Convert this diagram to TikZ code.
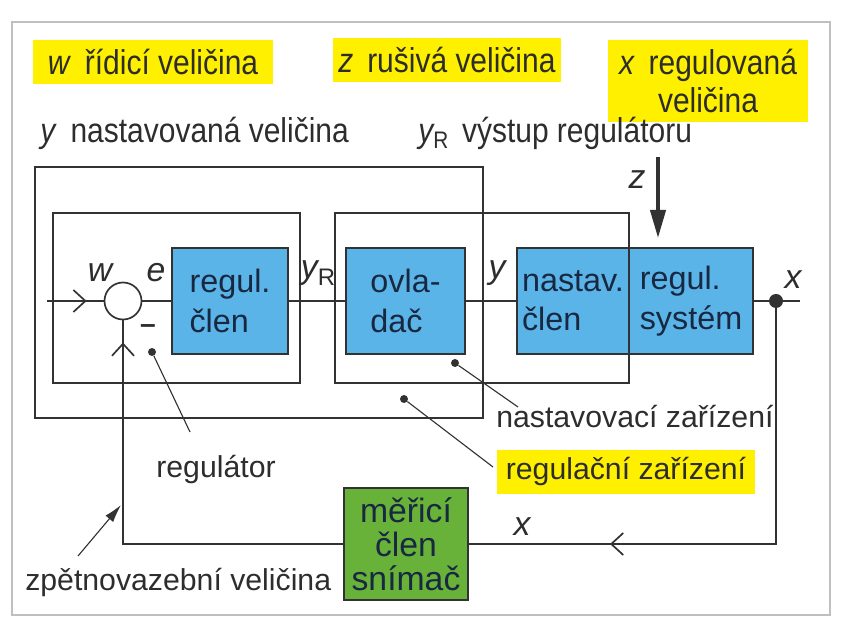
\documentclass[tikz,border=0pt]{standalone}
\usepackage{fontspec}
\setmainfont{Liberation Sans}
\newfontfamily\condfont[FakeStretch=0.87]{Liberation Sans}
\usetikzlibrary{arrows.meta,decorations.markings}

\definecolor{blockblue}{RGB}{90,180,232}
\definecolor{blockgreen}{RGB}{104,178,58}
\definecolor{tagyellow}{RGB}{255,240,0}
\definecolor{linegray}{RGB}{50,50,50}
\definecolor{textgray}{RGB}{45,45,45}
\definecolor{textnavy}{RGB}{25,40,65}

\newcommand{\yR}{{\itshape y}\raisebox{-0.2em}{\upshape\fontsize{17}{17}\selectfont R}}
\newcommand{\gap}{\hspace{0.4em}}

\tikzset{
  boxframe/.style={draw=linegray, line width=1.2pt},
  wire/.style={draw=linegray, line width=1.2pt},
  block/.style={draw=linegray, line width=1.2pt, fill=blockblue, text=textnavy,
    align=left, inner sep=0pt, font=\fontsize{23}{28}\selectfont},
  sensor/.style={block, fill=blockgreen, align=center, font=\fontsize{24}{24}\selectfont},
  tag/.style={fill=tagyellow, text=textgray, inner sep=0pt, align=center,
    font=\condfont\fontsize{24.5}{27}\selectfont},
  caption/.style={text=textgray, inner sep=0pt, font=\condfont\fontsize{24.5}{27}\selectfont},
  note/.style={text=textgray, inner sep=0pt, font=\fontsize{21.5}{25}\selectfont},
  var/.style={text=textgray, inner sep=0pt, font=\itshape\fontsize{24}{24}\selectfont},
  spot/.style={circle, fill=linegray, inner sep=0pt, minimum size=0.2cm},
  pointer/.style={draw=linegray, line width=0.8pt},
  midtip/.style={decoration={markings, mark=at position #1 with
    {\arrow{Straight Barb[length=0.3cm,width=0.55cm,line width=1.2pt]}}},
    postaction={decorate}},
}

\begin{document}
\begin{tikzpicture}[x=0.025cm, y=-0.025cm]
\useasboundingbox (0,0) rectangle (850,636);
\draw[gray!50, line width=1.6pt] (12,22) rectangle (830,615);

% Legend
\node[tag, minimum width=6cm, minimum height=1.1cm] (wtag) at (153,62) {\textit{w}\gap řídicí veličina};
\node[tag, minimum width=5.7cm, minimum height=1.1cm] (ztag) at (447,60) {\textit{z}\gap rušivá veličina};
\node[tag, minimum width=4.975cm, minimum height=2.05cm] (xtag) at (708,81) {\textit{x}\gap regulovaná\\veličina};
\node[caption, anchor=west] (ytag) at (40,133) {\textit{y}\gap nastavovaná veličina};
\node[caption, anchor=west] (yrtag) at (418,133) {\yR\gap výstup regulátoru};

% Frames
\draw[boxframe] (35,167) rectangle (483,418);
\draw[boxframe] (53,213) rectangle (300,383);
\draw[boxframe] (335,213) rectangle (629,383);

% Blocks
\node[circle, draw=linegray, line width=1.2pt, fill=white, minimum size=0.925cm, inner sep=0pt] (sum) at (123,301) {};
\node[block, minimum width=2.9cm, minimum height=2.65cm] (regul) at (230,301) {regul.\\člen};
\node[block, minimum width=2.975cm, minimum height=2.65cm] (ovladac) at (405.5,301) {ovla-\\dač};
\node[block, minimum width=2.8cm, minimum height=2.65cm] (nastav) at (573,301) {nastav.\\člen};
\node[block, minimum width=3.1cm, minimum height=2.65cm] (system) at (691,301) {regul.\\systém};
\node[sensor, minimum width=3.1cm, minimum height=2.8cm] (sensor) at (406,544) {měřicí\\člen\\snímač};

% Signals
\coordinate (win) at (47,301);
\coordinate (xout) at (800,301);
\node[spot, minimum size=0.35cm] (branch) at (776,301) {};
\draw[wire, midtip=0.70] (win) -- (sum.west);
\draw[wire] (sum.east) -- (regul.west);
\draw[wire] (regul.east) -- (ovladac.west);
\draw[wire] (ovladac.east) -- (nastav.west);
\draw[wire] (system.east) -- (xout);
\draw[wire, midtip=0.74] (branch) |- (sensor.east);
\draw[wire, midtip=0.95] (sensor.west) -| (sum.south);

% Disturbance
\coordinate (zsrc) at (658,157);
\draw[draw=linegray, line width=2.6pt, shorten >=0.23cm,
  -{Triangle[length=0.7cm,width=0.38cm]}] (zsrc) -- (zsrc |- system.north);

% Signal names
\node[var] at (100,273) {w};
\node[var] at (156,273) {e};
\node[var] at (318,273) {\yR};
\node[var] at (497,273) {y};
\node[var] at (793,280) {x};
\node[var] at (637,180) {z};
\node[var] at (522,527) {x};
\node[note, font=\bfseries\fontsize{20}{20}\selectfont] at (148,329) {–};

% Pointers
\node[spot] (regdot) at (152,352) {};
\coordinate (regend) at (190,432);
\draw[pointer] (regdot) -- (regend);
\node[note] (regtxt) at (216,470) {regulátor};

\node[spot] (nzdot) at (455,363) {};
\coordinate (nzend) at (518,407);
\draw[pointer] (nzdot) -- (nzend);
\node[note, anchor=west] (nztxt) at (496,417) {nastavovací zařízení};

\node[spot] (rzdot) at (404,399) {};
\coordinate (rzend) at (493,467);
\draw[pointer] (rzdot) -- (rzend);
\node[tag, font=\fontsize{21.5}{25}\selectfont, minimum width=6.45cm, minimum height=1.1cm] (rztag) at (626,472) {regulační zařízení};

\coordinate (fbtail) at (78,556);
\coordinate (fbhead) at (121,505);
\draw[pointer, -{Latex[length=0.45cm,width=0.25cm]}] (fbtail) -- (fbhead);
\node[note, anchor=west] (fbtxt) at (25,583) {zpětnovazební veličina};

\end{tikzpicture}
\end{document}
